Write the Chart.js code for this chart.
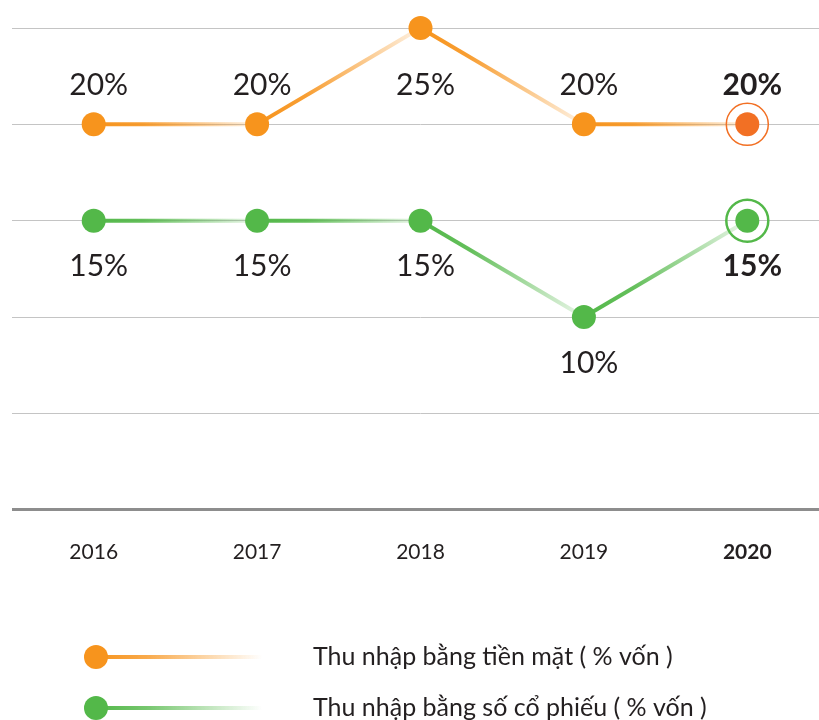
<!DOCTYPE html>
<html>
<head>
<meta charset="utf-8">
<script src="https://cdn.jsdelivr.net/npm/chart.js@4/dist/chart.umd.min.js"></script>
<style>
  html, body { margin: 0; padding: 0; background: #fff; overflow: hidden; }
  #wrap { width: 819px; height: 720px; overflow: hidden; position: relative; }
  #wrap canvas { display: block; }
</style>
</head>
<body>
<div id="wrap"><canvas id="c" width="841" height="720" style="width:841px;height:720px"></canvas></div>
<script>
// Dividend history, % of charter capital
const years = ['2016', '2017', '2018', '2019', '2020'];
const cashDividend = [20, 20, 25, 20, 20];
const stockDividend = [15, 15, 15, 10, 15];
const seriesNames = ['Thu nhập bằng tiền mặt ( % vốn )', 'Thu nhập bằng số cổ phiếu ( % vốn )'];
const yTicks = [0, 5, 10, 15, 20, 25];

const FONT = 'Lato, "Open Sans", sans-serif';
const TEXT = '#231f20';
const ORANGE = [247, 148, 29];
const ORANGE_LAST = 'rgb(242,112,36)';
const GREEN = [83, 184, 73];

const rgba = (c, a) => `rgba(${c[0]},${c[1]},${c[2]},${a})`;
const ctx2d = document.getElementById('c').getContext('2d');

// each segment fades out from its start point towards the next point
function fadingSegment(col) {
  return (ctx) => {
    const g = ctx2d.createLinearGradient(ctx.p0.x, ctx.p0.y, ctx.p1.x, ctx.p1.y);
    g.addColorStop(0, rgba(col, 1));
    g.addColorStop(0.3, rgba(col, 0.9));
    g.addColorStop(1, rgba(col, 0.12));
    return g;
  };
}

const lastIdx = years.length - 1;

const datasets = [
  {
    label: seriesNames[0],
    data: cashDividend,
    rgb: ORANGE,
    ringColor: ORANGE_LAST,
    ringWidth: 1.5,
    borderColor: rgba(ORANGE, 1),
    segment: { borderColor: fadingSegment(ORANGE) },
    pointBackgroundColor: cashDividend.map((v, i) => i === lastIdx ? ORANGE_LAST : rgba(ORANGE, 1)),
    labelPlacement: 'row'
  },
  {
    label: seriesNames[1],
    data: stockDividend,
    rgb: GREEN,
    ringColor: rgba(GREEN, 1),
    ringWidth: 2.5,
    borderColor: rgba(GREEN, 1),
    segment: { borderColor: fadingSegment(GREEN) },
    pointBackgroundColor: rgba(GREEN, 1),
    labelPlacement: 'below'
  }
].map(d => Object.assign({
  borderWidth: 4,
  pointRadius: 12,
  pointHoverRadius: 12,
  pointBorderWidth: 0,
  tension: 0,
  clip: false,
  fill: false
}, d));

// halo ring around the latest year's point
const ringPlugin = {
  id: 'ring',
  afterDatasetsDraw(chart) {
    const c = chart.ctx;
    chart.data.datasets.forEach((ds, i) => {
      const el = chart.getDatasetMeta(i).data[lastIdx];
      c.save();
      c.beginPath();
      c.arc(el.x, el.y, 21, 0, Math.PI * 2);
      c.lineWidth = ds.ringWidth;
      c.strokeStyle = ds.ringColor;
      c.stroke();
      c.restore();
    });
  }
};

// value labels
const valueLabelPlugin = {
  id: 'valueLabels',
  afterDatasetsDraw(chart) {
    const c = chart.ctx;
    const yScale = chart.scales.y;
    chart.data.datasets.forEach((ds, i) => {
      const meta = chart.getDatasetMeta(i);
      meta.data.forEach((el, j) => {
        const bold = j === lastIdx;
        c.save();
        c.font = `${bold ? 'bold ' : ''}30px ${FONT}`;
        c.fillStyle = TEXT;
        c.textAlign = 'center';
        c.textBaseline = 'middle';
        let y;
        if (ds.labelPlacement === 'row') {
          y = yScale.getPixelForValue(ds.data[0]) - 39;
        } else {
          y = el.y + 46;
        }
        c.fillText(ds.data[j] + '%', el.x + 5, y);
        c.restore();
      });
    });
  }
};

// legend: dot, fading line, series name
const legendPlugin = {
  id: 'customLegend',
  afterDraw(chart) {
    const c = chart.ctx;
    const rows = [657, 708];
    chart.data.datasets.forEach((ds, i) => {
      const y = rows[i];
      const x0 = 96, x1 = 262;
      c.save();
      const g = c.createLinearGradient(x0, y, x1, y);
      g.addColorStop(0, rgba(ds.rgb, 1));
      g.addColorStop(0.3, rgba(ds.rgb, 0.8));
      g.addColorStop(1, rgba(ds.rgb, 0));
      c.beginPath();
      c.moveTo(x0, y);
      c.lineTo(x1, y);
      c.lineWidth = 4;
      c.strokeStyle = g;
      c.stroke();
      c.beginPath();
      c.arc(x0, y, 12, 0, Math.PI * 2);
      c.fillStyle = rgba(ds.rgb, 1);
      c.fill();
      c.font = `25px ${FONT}`;
      c.fillStyle = TEXT;
      c.textAlign = 'left';
      c.textBaseline = 'middle';
      c.fillText(ds.label, 313, y);
      c.restore();
    });
  }
};

new Chart(ctx2d, {
  type: 'line',
  data: { labels: years, datasets },
  plugins: [ringPlugin, valueLabelPlugin, legendPlugin],
  options: {
    responsive: false,
    animation: false,
    events: [],
    layout: { padding: { top: 28, left: 12, right: 0, bottom: 125 } },
    plugins: { legend: { display: false }, tooltip: { enabled: false } },
    scales: {
      x: {
        offset: true,
        grid: { display: false, drawTicks: false },
        border: { display: false },
        ticks: {
          padding: 30,
          color: TEXT,
          font: (ctx) => ({ family: FONT, size: 21, weight: ctx.index === lastIdx ? 'bold' : 'normal' })
        }
      },
      y: {
        min: yTicks[0],
        max: yTicks[yTicks.length - 1],
        afterBuildTicks: (axis) => { axis.ticks = yTicks.map(v => ({ value: v })); },
        ticks: { display: false },
        border: { display: false },
        grid: {
          drawTicks: false,
          color: (ctx) => ctx.tick && ctx.tick.value === 0 ? '#8d8d8d' : '#c4c4c4',
          lineWidth: (ctx) => ctx.tick && ctx.tick.value === 0 ? 3 : 1
        }
      }
    }
  }
});
</script>
</body>
</html>
